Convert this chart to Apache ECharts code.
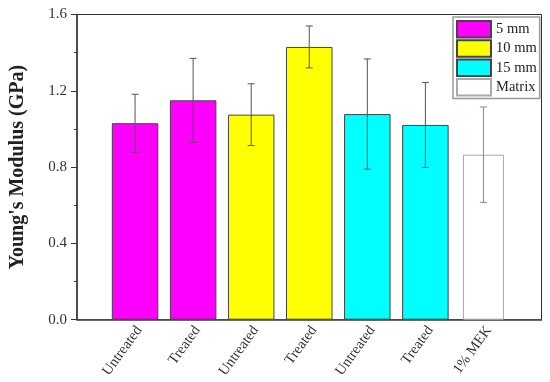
<!DOCTYPE html>
<html><head><meta charset="utf-8">
<script src="https://cdn.jsdelivr.net/npm/echarts@6/dist/echarts.min.js"></script>
<style>html,body{margin:0;padding:0;background:#fff}#c{width:550px;height:382px}</style>
</head><body><div id="c"></div>
<script>
var categories = ['Untreated','Treated','Untreated','Treated','Untreated','Treated','1% MEK'];
var groups = ['5 mm','5 mm','10 mm','10 mm','15 mm','15 mm','Matrix'];
var means = [1.03, 1.15, 1.075, 1.43, 1.078, 1.021, 0.865];
var errors = [0.152, 0.22, 0.162, 0.11, 0.289, 0.223, 0.25];
var legendNames = ['5 mm','10 mm','15 mm','Matrix'];
var fillColors = ['#ff00ff','#ffff00','#00ffff','#ffffff'];
var yTicks = [0.0, 0.4, 0.8, 1.2, 1.6];

var FONT = 'Liberation Serif';
var axisCats = [''].concat(categories).concat(['']);

function seriesData(name){
  var d = [null];
  categories.forEach(function(c,i){ d.push(groups[i]===name ? means[i] : null); });
  d.push(null);
  return d;
}
var series = legendNames.map(function(name, k){
  var isMatrix = name === 'Matrix';
  return {
    name: name, type: 'bar', data: seriesData(name),
    xAxisIndex: isMatrix ? 1 : 0,
    barWidth: isMatrix ? 41 : 46.5, barGap: '-100%',
    itemStyle: { color: fillColors[k], borderColor: isMatrix ? '#aaaaaa' : '#444444', borderWidth: 1 },
    emphasis: { disabled: true }, z: 2
  };
});
var errData = categories.map(function(c,i){ return [i+1, means[i]-errors[i], means[i]+errors[i], groups[i]==='Matrix'?1:0]; });
series.push({
  type: 'custom', xAxisIndex: 0, z: 5, silent: true,
  data: errData,
  renderItem: function(params, api){
    var x = api.value(0), lo = api.value(1), hi = api.value(2), m = api.value(3);
    var p1 = api.coord([x, hi]), p2 = api.coord([x, lo]);
    var col = m ? '#888888' : '#555555';
    var st = { stroke: col, lineWidth: 1 };
    var h = 3.5;
    return { type: 'group', children: [
      { type: 'line', shape: { x1: p1[0], y1: p1[1], x2: p2[0], y2: p2[1] }, style: st },
      { type: 'line', shape: { x1: p1[0]-h, y1: p1[1], x2: p1[0]+h, y2: p1[1] }, style: st },
      { type: 'line', shape: { x1: p2[0]-h, y1: p2[1], x2: p2[0]+h, y2: p2[1] }, style: st }
    ]};
  }
});

var chart = echarts.init(document.getElementById('c'), null, {renderer: 'canvas'});
chart.setOption({
  animation: false,
  textStyle: { fontFamily: FONT },
  grid: [
    { left: 75.5, right: 8.5, top: 14.5, bottom: 62.3, show: true, borderColor: '#333', borderWidth: 1, backgroundColor: 'transparent' },
    { left: 81, right: 3, top: 14.5, bottom: 62.3, show: false }
  ],
  legend: {
    data: legendNames, orient: 'vertical', left: 453, top: 17,
    itemWidth: 34, itemHeight: 16.5, itemGap: 0.8, padding: [3, 3, 2, 3],
    borderColor: '#999', borderWidth: 1.5, icon: 'rect',
    textStyle: { fontFamily: FONT, fontSize: 14.5, color: '#222', lineHeight: 16 },
    selectedMode: false
  },
  xAxis: [{
    type: 'category', data: axisCats, boundaryGap: false,
    axisLine: { lineStyle: { color: '#444', width: 1.5 } },
    axisTick: { show: false },
    axisLabel: { show: false },
    splitLine: { show: false }
  }, {
    type: 'category', data: axisCats, boundaryGap: false, show: false
  }, {
    type: 'category', data: axisCats, boundaryGap: false, gridIndex: 1,
    axisLine: { show: false }, axisTick: { show: false },
    axisLabel: { interval: 0, rotate: 54, fontFamily: FONT, fontSize: 14.5, color: '#333', margin: 8 },
    splitLine: { show: false }
  }],
  yAxis: [{
    type: 'value', min: 0, max: 1.6, interval: 0.4,
    name: "Young's Modulus (GPa)", nameLocation: 'middle', nameGap: 49,
    nameTextStyle: { fontFamily: FONT, fontSize: 20, fontWeight: 'bold', color: '#222' },
    axisLine: { show: true, lineStyle: { color: '#333', width: 1.5 } },
    axisTick: { show: true, length: 6, lineStyle: { color: '#333' } },
    minorTick: { show: true, splitNumber: 2, length: 3, lineStyle: { color: '#333' } },
    axisLabel: { fontFamily: FONT, fontSize: 15, color: '#333', margin: 10,
      formatter: function(v){ return v.toFixed(1); } },
    splitLine: { show: false }
  }, {
    type: 'value', min: 0, max: 1.6, gridIndex: 1, show: false
  }],
  series: series
});
</script></body></html>
